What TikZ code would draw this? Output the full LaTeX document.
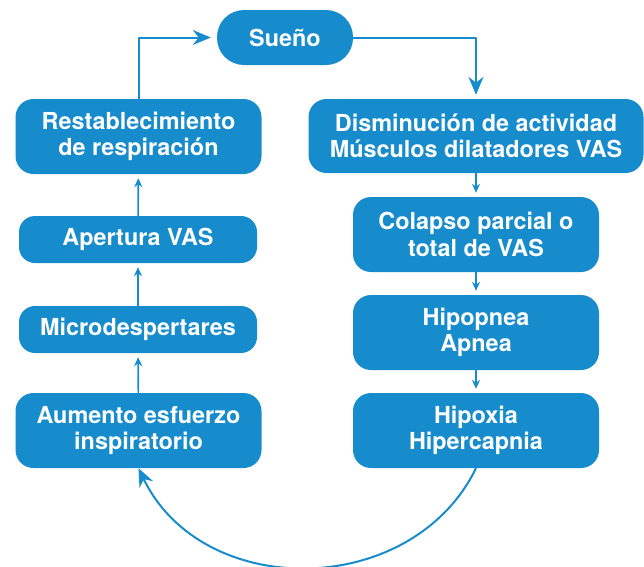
\documentclass[tikz,border=0pt]{standalone}
\usepackage{fontspec}
\setmainfont{TeX Gyre Heros}
\usetikzlibrary{arrows.meta}
\definecolor{azul}{HTML}{178CCC}
\begin{document}
\begin{tikzpicture}[x=1pt,y=-1pt, line join=round,
	caja/.style={fill=azul, text=white, rounded corners=18pt, align=center, inner sep=0pt,
		minimum width=246pt, minimum height=75pt, font=\fontsize{23.4}{26.5}\selectfont\bfseries},
	baja/.style={caja, minimum width=238pt, minimum height=47pt, rounded corners=16pt},
	flecha/.style={azul, line width=1.6pt, shorten >=4pt, -{Stealth[length=9pt,width=8pt]}},
	flechag/.style={azul, line width=2pt, -{Stealth[length=18pt,width=15pt]}}]
	\useasboundingbox (0,0) rectangle (644,566);
	% centro
	\node[caja, minimum width=136pt, minimum height=55pt, rounded corners=27pt] (sueno) at (285,37.5) {Sueño};
	% columna izquierda
	\node[caja] (rest) at (138.5,136.5) {Restablecimiento\\de respiración};
	\node[baja] (aper) at (138,239.5) {Apertura VAS};
	\node[baja] (micro) at (138,329.5) {Microdespertares};
	\node[caja] (aum) at (138.5,430.5) {Aumento esfuerzo\\inspiratorio};
	% columna derecha
	\node[caja, minimum width=335pt, minimum height=74pt] (dism) at (476,136) {Disminución de actividad\\Músculos dilatadores VAS};
	\node[caja] (colap) at (476,234.5) {Colapso parcial o\\total de VAS};
	\node[caja] (hipop) at (476,332.5) {Hipopnea\\Apnea};
	\node[caja] (hipox) at (476,430.5) {Hipoxia\\Hipercapnia};
	% flechas
	\draw[flechag, shorten >=6pt] (rest.north) |- (sueno.west);
	\draw[flechag, shorten >=4pt] (sueno.east) -| (dism.north);
	\draw[flecha] (dism) -- (colap);
	\draw[flecha] (colap) -- (hipop);
	\draw[flecha] (hipop) -- (hipox);
	\draw[flecha] (aum) -- (micro);
	\draw[flecha] (micro) -- (aper);
	\draw[flecha] (aper) -- (rest);
	\draw[flechag] (hipox.south) .. controls +(-64,131) and +(64,133) .. (aum.south);
\end{tikzpicture}
\end{document}
